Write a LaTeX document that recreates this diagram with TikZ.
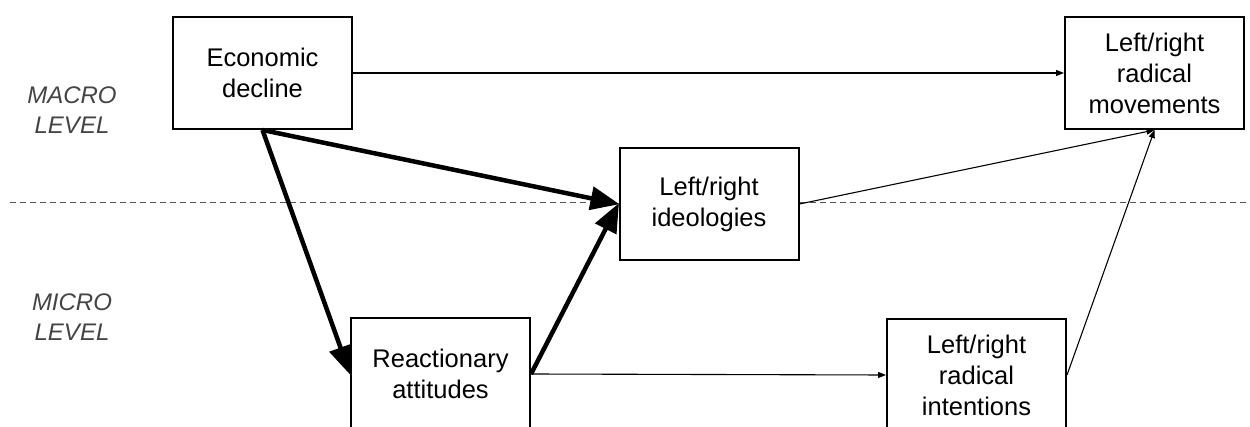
\documentclass[tikz,border=0pt]{standalone}
\usepackage{fontspec}
\setmainfont{Liberation Sans}
\usetikzlibrary{arrows.meta}
\definecolor{lvlgray}{HTML}{444444}
\definecolor{dashgray}{HTML}{555555}
\tikzset{
  box/.style={draw=black, line width=2pt, fill=white, minimum width=179pt, minimum height=112pt,
    inner sep=0pt, align=center, font=\fontsize{25.5}{31}\selectfont},
  lvl/.style={align=center, text=lvlgray, font=\fontsize{24}{30}\selectfont\itshape},
  thin/.style={line width=1.1pt, -{Triangle[length=8pt,width=6pt]}},
  thick/.style={line width=4.5pt, -{Triangle[length=29pt,width=23pt]}, shorten >=-1pt},
  sep/.style={draw=dashgray, line width=1pt, dash pattern=on 6pt off 4pt}
}
\begin{document}
\begin{tikzpicture}[x=1pt,y=-1pt]
\useasboundingbox (0,0) rectangle (1250,427);
\coordinate (dl) at (10,203);
\coordinate (dr) at (1250,203);
\draw[sep] (dl) -- (dr);
\node[lvl] (macro) at (72,110) {MACRO\\LEVEL};
\node[lvl] (micro) at (72,317) {MICRO\\LEVEL};
\node[box] (econ) at (262.5,73) {Economic\\decline};
\node[box] (mov) at (1154.5,73) {Left/right\\radical\\movements};
\node[box] (ideo) at (709,204) {Left/right\\ideologies};
\node[box] (react) at (440.5,374) {Reactionary\\attitudes};
\node[box] (intent) at (976.5,375) {Left/right\\radical\\intentions};
\draw[thin] (econ.east) -- (mov.west);
\draw[thin] (ideo.east) -- (mov.south);
\draw[thin] (intent.east) -- (mov.south);
\draw[thin] (react.east) -- (intent.west);
\draw[thick] (econ.south) -- (ideo.west);
\draw[thick] (econ.south) -- (react.west);
\draw[thick] (react.east) -- (ideo.west);
\end{tikzpicture}
\end{document}
